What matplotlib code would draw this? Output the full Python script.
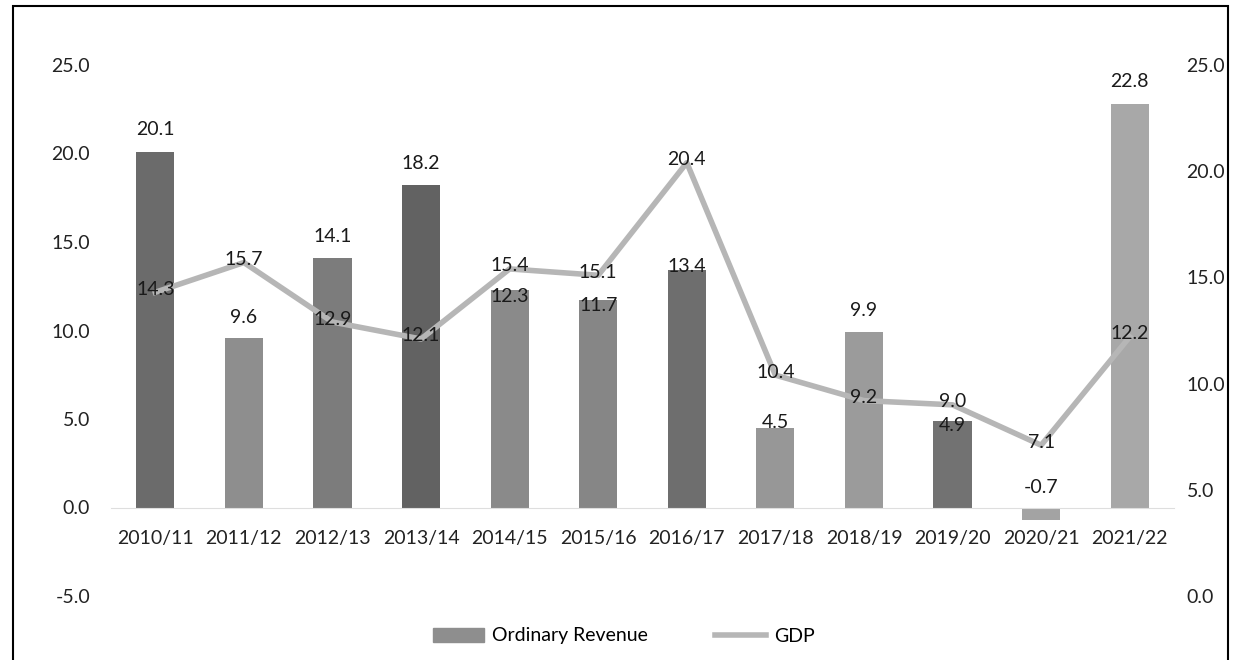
import matplotlib.pyplot as plt
from matplotlib.patches import Rectangle
from matplotlib.lines import Line2D

years = ["2010/11", "2011/12", "2012/13", "2013/14", "2014/15", "2015/16",
         "2016/17", "2017/18", "2018/19", "2019/20", "2020/21", "2021/22"]
ordinary_revenue = [20.1, 9.6, 14.1, 18.2, 12.3, 11.7, 13.4, 4.5, 9.9, 4.9, -0.7, 22.8]
gdp = [14.3, 15.7, 12.9, 12.1, 15.4, 15.1, 20.4, 10.4, 9.2, 9.0, 7.1, 12.2]

# scanned greys differ from bar to bar
bar_colors = ["#6b6b6b", "#8e8e8e", "#7c7c7c", "#626262", "#8a8a8a", "#868686",
              "#6e6e6e", "#979797", "#9b9b9b", "#727272", "#a3a3a3", "#a8a8a8"]
# label offset (pixels) from bar top; some labels were moved onto the bar edge
label_offsets = [22, 20, 21, 22, -7, -5, 4, 5, 22, -5, 20, 22]

plt.rcParams["font.family"] = ["Lato", "DejaVu Sans"]

fig = plt.figure(figsize=(12.33, 6.6), dpi=100)
ax = fig.add_axes([111 / 1233, 1 - 596 / 660, (1174 - 111) / 1233, (596 - 65) / 660])
ax2 = ax.twinx()

x = list(range(len(years)))
ax.bar(x, ordinary_revenue, width=0.43, color=bar_colors, zorder=2)
for xi, v, off in zip(x, ordinary_revenue, label_offsets):
    ax.annotate(f"{v:.1f}", (xi, max(v, 0)), xytext=(0, off), textcoords="offset pixels",
                ha="center", va="center", fontsize=14, color="#1a1a1a")

ax2.plot(x, gdp, color="#b6b6b6", linewidth=4, zorder=3)
for xi, v in zip(x, gdp):
    ax2.annotate(f"{v:.1f}", (xi, v), xytext=(0, 3), textcoords="offset pixels",
                 ha="center", va="center", fontsize=14, color="#1a1a1a")

ax.set_xlim(-0.5, len(years) - 0.5)
ax.set_ylim(-5, 25)
ax.set_yticks([-5, 0, 5, 10, 15, 20, 25])
ax.set_yticklabels([f"{t:.1f}" for t in [-5, 0, 5, 10, 15, 20, 25]])
ax2.set_ylim(0, 25)
ax2.set_yticks([0, 5, 10, 15, 20, 25])
ax2.set_yticklabels([f"{t:.1f}" for t in [0, 5, 10, 15, 20, 25]])

ax.set_xticks(x)
ax.set_xticklabels(years)
ax.spines["bottom"].set_position(("data", 0))
ax.spines["bottom"].set_color("#dedede")
for s in ["top", "left", "right"]:
    ax.spines[s].set_visible(False)
for s in ["top", "left", "right", "bottom"]:
    ax2.spines[s].set_visible(False)
ax.tick_params(axis="x", length=0, pad=16, labelsize=14, colors="#222222")
ax.tick_params(axis="y", length=0, pad=15, labelsize=14, colors="#222222")
ax2.tick_params(axis="y", length=0, pad=9, labelsize=14, colors="#222222")
ax.set_zorder(ax2.get_zorder() - 1)
ax.patch.set_visible(False)

handles = [Rectangle((0, 0), 1, 1, color="#8e8e8e"),
           Line2D([0], [0], color="#b6b6b6", linewidth=4)]
fig.legend(handles, ["Ordinary Revenue", "GDP"], loc="center", bbox_to_anchor=(0.506, 1 - 636 / 660),
           ncol=2, frameon=False, fontsize=14, handlelength=2.6, columnspacing=3.5,
           handletextpad=0.4)

fig.patches.append(Rectangle((13 / 1233, -0.05), (1228 - 13) / 1233, 1.05 - 6 / 660,
                             transform=fig.transFigure, fill=False, edgecolor="black",
                             linewidth=1.5))

fig.savefig("out.png", dpi=100)
